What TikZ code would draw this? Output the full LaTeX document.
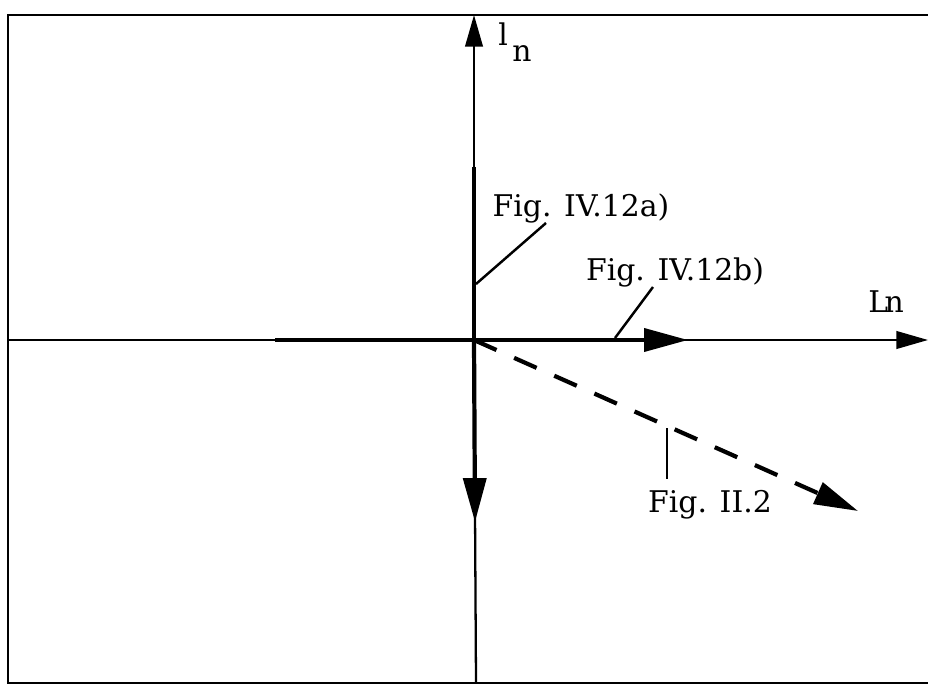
\documentclass[tikz,border=0pt]{standalone}
\usepackage{fontspec}
\setmainfont{DejaVu Serif}
\usetikzlibrary{
    arrows.meta,
    positioning
}
\tikzset{
    >={Triangle[length=18pt,width=10pt]},
    eje/.style={line width=1.3pt},
    vector/.style={line width=2.4pt, -{Triangle[length=25pt,width=13pt]}},
    guia/.style={line width=1.4pt},
    rotulo/.style={font=\fontsize{17}{19}\selectfont, inner sep=0pt}
}

\begin{document}
\begin{tikzpicture}[
    x=0.02cm,
    y=-0.02cm
]
    \useasboundingbox (0,0) rectangle (928,685);

    % Marco (el lado derecho queda fuera)
    \coordinate (mtr) at (928,15);
    \coordinate (mtl) at (8,15);
    \coordinate (mbl) at (8,683);
    \coordinate (mbr) at (928,683);
    \draw[eje] (mtr) -- (mtl) -- (mbl) -- (mbr);

    % Puntos de los ejes
    \coordinate (O)    at (474,340);
    \coordinate (ytop) at (474,15);
    \coordinate (ybot) at (476,683);
    \coordinate (xlft) at (8,340);
    \coordinate (xrgt) at (928,340);
    \coordinate (a1)   at (474,167);
    \coordinate (b0)   at (275,340);
    \coordinate (b1)   at (688,340);
    \coordinate (d1)   at (475,522);
    \coordinate (e1)   at (858,511);

    % Ejes
    \draw[eje, ->] (O) -- (ytop);
    \draw[eje] (O) -- (ybot);
    \draw[eje] (xlft) -- (O);
    \draw[eje, ->] (O) -- (xrgt);

    % Vectores
    \draw[vector, -] (a1) -- (O);
    \draw[vector] (b0) -- (b1);
    \draw[vector] (O) -- (d1);
    \draw[vector, dash pattern=on 14pt off 11pt] (O) -- (e1);

    % Rotulos de los ejes
    \node[rotulo] (ln) at (515,42) {l\kern0.15em\raisebox{-1.05ex}{n}};
    \node[rotulo] (Ln) at (886,302) {L\kern-0.12em n};

    % Rotulos de las figuras
    \node[rotulo] (figa) at (581,208) {Fig. IV.12a)};
    \node[rotulo] (figb) at (675,272) {Fig. IV.12b)};
    \node[rotulo] (figc) at (710,505) {Fig. II.2};

    % Lineas guia
    \coordinate (ga0) at (476,284);
    \coordinate (ga1) at (546,223);
    \coordinate (gb0) at (615,338);
    \coordinate (gb1) at (653,287);
    \coordinate (gc0) at (667,428);
    \coordinate (gc1) at (667,479);
    \draw[guia] (ga0) -- (ga1);
    \draw[guia] (gb0) -- (gb1);
    \draw[guia] (gc0) -- (gc1);

\end{tikzpicture}
\end{document}
